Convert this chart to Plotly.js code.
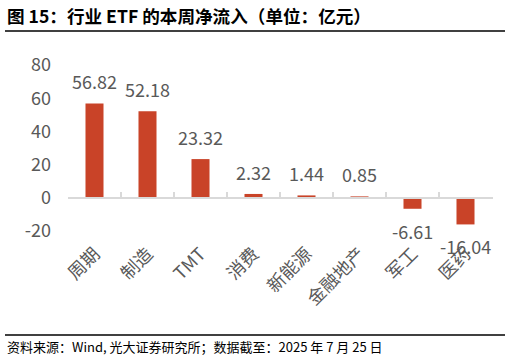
<!DOCTYPE html>
<html>
<head>
<meta charset="utf-8">
<script src="https://cdn.plot.ly/plotly-3.0.1.min.js"></script>
<style>html,body{margin:0;padding:0;background:#fff;}#chart{width:511px;height:358px;}</style>
</head>
<body>
<div id="chart"></div>
<script>
const categories = ["周期", "制造", "TMT", "消费", "新能源", "金融地产", "军工", "医药"];
const values = [56.82, 52.18, 23.32, 2.32, 1.44, 0.85, -6.61, -16.04];
const labels = ["56.82", "52.18", "23.32", "2.32", "1.44", "0.85", "-6.61", "-16.04"];
const yTicks = [-20, 0, 20, 40, 60, 80];

const FONT = '"Noto Sans CJK SC", "Noto Sans", sans-serif';
const barColor = '#C94328';
const L = 68, R = 18, T = 65, B = 127, W = 511, H = 358;
const pw = W - L - R, ph = H - T - B;
const px = v => (v - L) / pw;
const py = v => (H - B - v) / ph;

const traces = [
  {
    type: 'bar', x: categories, y: values, width: 0.34,
    marker: {color: barColor}, hoverinfo: 'skip', xaxis: 'x', yaxis: 'y'
  },
  {
    type: 'scatter', mode: 'markers', x: categories, y: values,
    marker: {opacity: 0}, hoverinfo: 'skip', xaxis: 'x2', yaxis: 'y', showlegend: false
  }
];

const annotations = categories.map((c, i) => ({
  x: c, y: values[i], xref: 'x', yref: 'y', text: labels[i], showarrow: false,
  yshift: values[i] >= 0 ? 22 : -22, yanchor: 'middle',
  font: {family: FONT, size: 18, color: '#595959'}
}));
annotations.push({
  xref: 'paper', yref: 'paper', x: px(5), y: py(15), xanchor: 'left', yanchor: 'middle',
  text: '<b>图 15：行业 ETF 的本周净流入（单位：亿元）</b>', showarrow: false,
  font: {family: FONT, size: 17.6, color: '#000'}
});
annotations.push({
  xref: 'paper', yref: 'paper', x: px(5), y: py(346), xanchor: 'left', yanchor: 'middle',
  text: '资料来源：Wind, 光大证券研究所；数据截至：2025 年 7 月 25 日', showarrow: false,
  font: {family: FONT, size: 13, color: '#000'}
});

const layout = {
  width: W, height: H,
  margin: {l: L, r: R, t: T, b: B, pad: 0},
  paper_bgcolor: '#fff', plot_bgcolor: '#fff',
  showlegend: false,
  xaxis: {
    type: 'category', showline: false, ticks: '', showgrid: false, zeroline: false,
    tickangle: -45, ticklabelstandoff: 8,
    tickfont: {family: FONT, size: 18, color: '#595959'}
  },
  xaxis2: {
    type: 'category', overlaying: 'x', matches: 'x', anchor: 'free', position: 0.2,
    showline: true, linecolor: '#d9d9d9', linewidth: 2,
    ticks: 'inside', tickson: 'boundaries', ticklen: 5, tickcolor: '#d9d9d9', tickwidth: 1.5,
    showticklabels: false, showgrid: false, zeroline: false
  },
  yaxis: {
    range: [-20, 80], tickvals: yTicks, ticktext: yTicks.map(String),
    showgrid: false, zeroline: false, showline: false, ticks: '',
    ticklabelstandoff: 16,
    tickfont: {family: FONT, size: 18, color: '#595959'}
  },
  annotations: annotations,
  shapes: [
    {type: 'line', xref: 'paper', yref: 'paper', x0: px(5), x1: px(505), y0: py(31), y1: py(31), line: {color: '#000', width: 1.5}},
    {type: 'line', xref: 'paper', yref: 'paper', x0: px(5), x1: px(505), y0: py(335), y1: py(335), line: {color: '#000', width: 1.5}}
  ]
};

Plotly.newPlot('chart', traces, layout, {staticPlot: true, displayModeBar: false});
</script>
</body>
</html>
